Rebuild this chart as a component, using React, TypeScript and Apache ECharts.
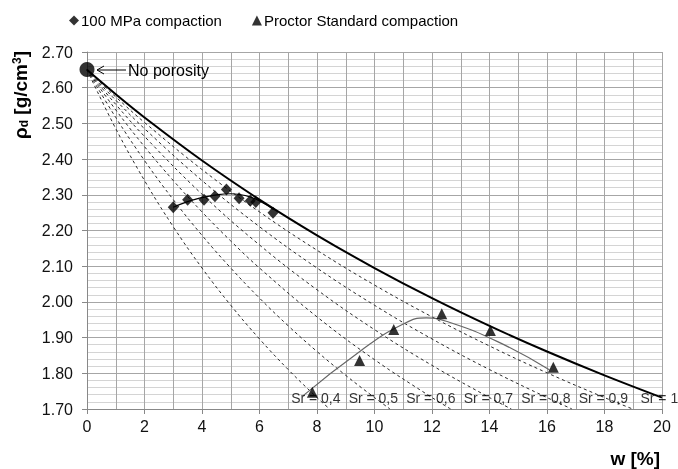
import React, { useEffect, useRef } from "react";
import * as echarts from "echarts";

// Saturation curves: water content w [%] and dry density [g/cm3]
const sr04W = [0, 1, 2, 3, 4, 5, 6, 7, 8, 8.44];
const sr04Rho = [2.65, 2.4853, 2.34, 2.2106, 2.0949, 1.9906, 1.8962, 1.8104, 1.732, 1.7];
const sr05W = [0, 1, 2, 3, 4, 5, 6, 7, 8, 9, 10, 10.54];
const sr05Rho = [2.65, 2.5166, 2.396, 2.2865, 2.1865, 2.0949, 2.0106, 1.9329, 1.861, 1.7942, 1.732, 1.7];
const sr06W = [0, 1, 2, 3, 4, 5, 6, 8, 10, 12, 12.65];
const sr06Rho = [2.65, 2.5379, 2.4349, 2.34, 2.2521, 2.1706, 2.0949, 1.9581, 1.8382, 1.732, 1.7];
const sr07W = [0, 1, 2, 4, 6, 8, 10, 12, 14, 14.76];
const sr07Rho = [2.65, 2.5533, 2.4635, 2.3015, 2.1595, 2.034, 1.9223, 1.8222, 1.732, 1.7];
const sr08W = [0, 1, 2, 4, 6, 8, 10, 12, 14, 16, 16.87];
const sr08Rho = [2.65, 2.565, 2.4853, 2.34, 2.2106, 2.0949, 1.9906, 1.8962, 1.8104, 1.732, 1.7];
const sr09W = [0, 1, 2, 4, 6, 8, 10, 12, 14, 16, 18, 18.98];
const sr09Rho = [2.65, 2.5742, 2.5026, 2.3708, 2.2521, 2.1448, 2.0472, 1.9581, 1.8765, 1.8013, 1.732, 1.7];
const sr1W = [0, 1, 2, 4, 6, 8, 10, 12, 14, 16, 18, 20];
const sr1Rho = [2.65, 2.5816, 2.5166, 2.396, 2.2865, 2.1865, 2.0949, 2.0106, 1.9329, 1.861, 1.7942, 1.732];

// 100 MPa compaction points
const mpaW = [3.0, 3.5, 4.07, 4.45, 4.85, 5.29, 5.68, 5.87, 6.47];
const mpaRho = [2.265, 2.286, 2.286, 2.296, 2.315, 2.29, 2.283, 2.28, 2.25];
// 100 MPa trend line
const mpaTrendW = [3.0, 3.5, 4.0, 4.5, 5.0, 5.5, 6.0, 6.5];
const mpaTrendRho = [2.265, 2.281, 2.292, 2.3, 2.303, 2.298, 2.283, 2.258];

// Proctor Standard compaction points
const proctorW = [7.84, 9.48, 10.67, 12.34, 14.03, 16.22];
const proctorRho = [1.747, 1.836, 1.923, 1.967, 1.92, 1.817];
// Proctor trend line
const proctorTrendW = [7.5, 9.5, 11.0, 11.8, 12.6, 14.3, 16.08];
const proctorTrendRho = [1.736, 1.862, 1.938, 1.955, 1.943, 1.888, 1.81];

// No porosity point
const noPorW = [0];
const noPorRho = [2.651];

// Sr labels
const srLabels = ["Sr = 0,4", "Sr = 0,5", "Sr = 0,6", "Sr = 0,7", "Sr = 0,8", "Sr = 0,9", "Sr = 1"];
const srLabelW = [7.1, 9.1, 11.1, 13.1, 15.1, 17.1, 19.25];
const srLabelRho = [1.732, 1.732, 1.732, 1.732, 1.732, 1.732, 1.732];

const zip = (xs: number[], ys: number[]) => xs.map((x, i) => [x, ys[i]]);

const FONT = "Liberation Sans, Arial, sans-serif";

export default function App() {
  const ref = useRef<HTMLDivElement>(null);
  useEffect(() => {
    if (!ref.current) return;
    const chart = echarts.init(ref.current, undefined, { renderer: "svg" });
    const dashed = (w: number[], r: number[]) => ({
      type: "line",
      data: zip(w, r),
      smooth: 0.4,
      symbol: "none",
      silent: true,
      lineStyle: { color: "#2a2a2a", width: 1, type: [3, 3] },
      z: 2,
    });
    chart.setOption({
      animation: false,
      textStyle: { fontFamily: FONT },
      grid: { left: 87, right: 16, top: 52, bottom: 60 },
      legend: {
        data: ["100 MPa compaction", "Proctor Standard compaction"],
        left: 64,
        top: 8,
        itemGap: 30,
        itemWidth: 10,
        itemHeight: 10,
        textStyle: { fontSize: 15, color: "#000", fontFamily: FONT, padding: [0, 0, 0, -3] },
      },
      xAxis: {
        type: "value",
        min: 0,
        max: 20,
        interval: 2,
        axisLine: { show: true, lineStyle: { color: "#888", width: 1 } },
        axisTick: { show: true, length: 5, lineStyle: { color: "#888" } },
        axisLabel: { fontSize: 16, color: "#111", margin: 9, fontFamily: FONT },
        splitLine: { show: true, lineStyle: { color: "#a6a6a6", width: 1 } },
        minorTick: { show: false, splitNumber: 2 },
        minorSplitLine: { show: true, lineStyle: { color: "#a6a6a6", width: 1 } },
      },
      yAxis: {
        type: "value",
        min: 1.7,
        max: 2.7,
        interval: 0.1,
        axisLine: { show: true, lineStyle: { color: "#888", width: 1 } },
        axisTick: { show: true, length: 5, lineStyle: { color: "#888" } },
        axisLabel: {
          fontSize: 16,
          color: "#111",
          margin: 14,
          fontFamily: FONT,
          formatter: (v: number) => v.toFixed(2),
        },
        splitLine: { show: true, lineStyle: { color: "#a6a6a6", width: 1 } },
        minorTick: { show: false, splitNumber: 5 },
        minorSplitLine: { show: true, lineStyle: { color: "#d4d4d4", width: 1 } },
      },
      graphic: [
        {
          type: "text",
          left: 11,
          top: 51,
          rotation: Math.PI / 2,
          style: {
            text: "{a|ρ}{b|d}{a| [g/cm}{c|3}{a|]}",
            rich: {
              a: { fontSize: 19, fontWeight: "bold", fontFamily: FONT, fill: "#000" },
              b: { fontSize: 12, fontWeight: "bold", fontFamily: FONT, fill: "#000", verticalAlign: "bottom", padding: [7, 0, 0, 0] },
              c: { fontSize: 12, fontWeight: "bold", fontFamily: FONT, fill: "#000", verticalAlign: "top", padding: [0, 0, 7, 0] },
            },
          },
        },
        {
          type: "text",
          x: 660,
          y: 458,
          style: {
            text: "w [%]",
            font: "bold 19px " + FONT,
            fill: "#000",
            align: "right",
            verticalAlign: "middle",
          },
        },
        {
          type: "line",
          shape: { x1: 97, y1: 70, x2: 126, y2: 70 },
          style: { stroke: "#000", lineWidth: 1 },
          z: 10,
        },
        {
          type: "polyline",
          shape: { points: [[104, 66], [97, 70], [104, 74]] },
          style: { stroke: "#000", lineWidth: 1, fill: null },
          z: 10,
        },
        {
          type: "text",
          x: 128,
          y: 70,
          style: {
            text: "No porosity",
            font: "16px " + FONT,
            fill: "#000",
            verticalAlign: "middle",
          },
          z: 10,
        },
      ],
      series: [
        dashed(sr04W, sr04Rho),
        dashed(sr05W, sr05Rho),
        dashed(sr06W, sr06Rho),
        dashed(sr07W, sr07Rho),
        dashed(sr08W, sr08Rho),
        dashed(sr09W, sr09Rho),
        {
          type: "line",
          data: zip(sr1W, sr1Rho),
          smooth: 0.4,
          symbol: "none",
          silent: true,
          lineStyle: { color: "#000", width: 2 },
          z: 3,
        },
        {
          type: "line",
          data: zip(mpaTrendW, mpaTrendRho),
          smooth: 0.5,
          symbol: "none",
          lineStyle: { color: "#000", width: 1.2 },
          z: 4,
        },
        {
          type: "line",
          data: zip(proctorTrendW, proctorTrendRho),
          smooth: 0.5,
          symbol: "none",
          lineStyle: { color: "#666", width: 1.2 },
          z: 4,
        },
        {
          name: "100 MPa compaction",
          type: "scatter",
          data: zip(mpaW, mpaRho),
          symbol: "diamond",
          symbolSize: [11, 12],
          itemStyle: { color: "#000" },
          z: 6,
        },
        {
          name: "Proctor Standard compaction",
          type: "scatter",
          data: zip(proctorW, proctorRho),
          symbol: "triangle",
          symbolSize: [11, 11],
          itemStyle: { color: "#000" },
          z: 6,
        },
        {
          type: "scatter",
          data: zip(noPorW, noPorRho),
          symbol: "circle",
          symbolSize: 15,
          itemStyle: { color: "#000" },
          z: 7,
        },
        {
          type: "scatter",
          data: srLabelW.map((w, i) => ({ value: [w, srLabelRho[i]], name: srLabels[i] })),
          symbolSize: 0,
          silent: true,
          label: {
            show: true,
            position: "right",
            distance: 0,
            formatter: (p: any) => p.name,
            fontSize: 14,
            color: "#000",
            fontFamily: FONT,
          },
          z: 8,
        },
      ],
    });
    return () => chart.dispose();
  }, []);
  return <div ref={ref} style={{ position: "fixed", left: 0, top: 0, width: 678, height: 469 }} />;
}
